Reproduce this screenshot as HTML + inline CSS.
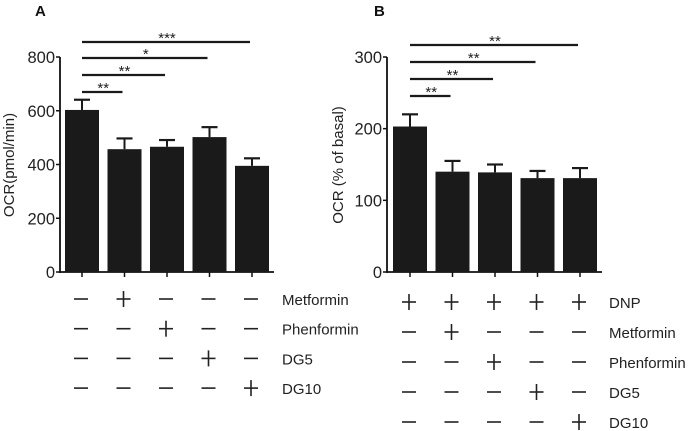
<!DOCTYPE html>
<html><head><meta charset="utf-8"><style>
html,body{margin:0;padding:0;background:#fff;}
svg{display:block;font-family:"Liberation Sans",Arial,sans-serif;}
</style></head><body>
<svg id="fig" width="698" height="431" viewBox="0 0 698 431"></svg>
<script>
const catsA = ["Control","Metformin","Phenformin","DG5","DG10"];
const valsA = [603, 457, 466, 502, 395];
const errA = [38, 40, 25, 37, 28];
const ticksA = [0, 200, 400, 600, 800];
const sigA = [[0,1,"**"],[0,2,"**"],[0,3,"*"],[0,4,"***"]];
const rowsA = ["Metformin","Phenformin","DG5","DG10"];
const signsA = [["-","+","-","-","-"],["-","-","+","-","-"],["-","-","-","+","-"],["-","-","-","-","+"]];

const catsB = ["DNP","DNP+Metformin","DNP+Phenformin","DNP+DG5","DNP+DG10"];
const valsB = [203, 140, 139, 131, 131];
const errB = [17, 15, 11, 10, 14];
const ticksB = [0, 100, 200, 300];
const sigB = [[0,1,"**"],[0,2,"**"],[0,3,"**"],[0,4,"**"]];
const rowsB = ["DNP","Metformin","Phenformin","DG5","DG10"];
const signsB = [["+","+","+","+","+"],["-","+","-","-","-"],["-","-","+","-","-"],["-","-","-","+","-"],["-","-","-","-","+"]];

const NS="http://www.w3.org/2000/svg";
const svg=document.getElementById('fig');
function mk(tag,attrs,parent){const e=document.createElementNS(NS,tag);for(const k in attrs)e.setAttribute(k,attrs[k]);(parent||svg).appendChild(e);return e;}

function panel(o){
  const g=mk('g',{});
  
  
  const y0=272,y1=57;
  const ys=v=>y0-(v/o.max)*(y0-y1);
  const xc=i=>o.x0+o.step*i;
  const bw=34;
  const L=mk('text',{x:o.letterX,y:16,'font-size':15,'font-weight':'bold',fill:'#111'},g);L.textContent=o.id.toUpperCase();
  
  
  const ax=mk('line',{x1:o.axX,y1:y1,x2:o.axX,y2:y0+1,stroke:'#111','stroke-width':1.8},g);
  
  
  const xa=mk('line',{x1:o.axX,y1:y0,x2:xc(4)+22,y2:y0,stroke:'#111','stroke-width':1.8},g);
  
  
  o.ticks.forEach(t=>{
    mk('line',{x1:o.axX-4,y1:ys(t),x2:o.axX,y2:ys(t),stroke:'#111','stroke-width':1.5},g);
    const tx=mk('text',{x:o.axX-5,y:ys(t)+6,'font-size':16.5,'text-anchor':'end',fill:'#222'},g);tx.textContent=t;
    
    
  });
  const tt=mk('text',{x:0,y:0,'font-size':15,'text-anchor':'middle',fill:'#222',transform:`translate(${o.titleX},165) rotate(-90)`},g);tt.textContent=o.title;
  
  
  o.vals.forEach((v,i)=>{
    const c=xc(i);
    const e=o.err[i];
    const el=mk('line',{x1:c,y1:ys(v),x2:c,y2:ys(v+e),stroke:'#1a1a1a','stroke-width':2},g);
    mk('line',{x1:c-8,y1:ys(v+e),x2:c+8,y2:ys(v+e),stroke:'#1a1a1a','stroke-width':2.2},g);
    
    
    const r=mk('rect',{x:c-bw/2,y:ys(v),width:bw,height:y0-ys(v),fill:'#1a1a1a'},g);
    
    
    mk('line',{x1:c,y1:y0,x2:c,y2:y0+5,stroke:'#111','stroke-width':1.5},g);
  });
  o.sig.forEach((s,k)=>{
    const y=o.sigY[k];
    const sl=mk('line',{x1:xc(s[0]),y1:y,x2:xc(s[1])-2,y2:y,stroke:'#1a1a1a','stroke-width':2.2},g);
    
    
    const st=mk('text',{x:(xc(s[0])+xc(s[1]))/2,y:y+1,'font-size':15,'text-anchor':'middle',fill:'#222'},g);st.textContent=s[2];
    
    
  });
  o.rows.forEach((name,r)=>{
    const y=o.rowY0+o.rowStep*r;
    o.signs[r].forEach((sg,i)=>{
      const c=xc(i)-1;
      mk('line',{x1:c-7,y1:y,x2:c+7,y2:y,stroke:'#222','stroke-width':1.6},g);
      if(sg==='+')mk('line',{x1:c,y1:y-8,x2:c,y2:y+8,stroke:'#222','stroke-width':1.6},g);
    });
    const lt=mk('text',{x:o.rowLabX,y:y+6,'font-size':15,fill:'#222'},g);lt.textContent=name;
    
    
  });
}
panel({id:'a',cats:catsA,vals:valsA,err:errA,ticks:ticksA,max:800,sig:sigA,sigY:[92,75,58,42],
  x0:82,step:42.5,axX:60,letterX:35,titleX:14,title:'OCR(pmol/min)',rows:rowsA,signs:signsA,rowY0:299,rowStep:29.7,rowLabX:282});
panel({id:'b',cats:catsB,vals:valsB,err:errB,ticks:ticksB,max:300,sig:sigB,sigY:[96,79,62,45],
  x0:410,step:42.5,axX:387,letterX:374,titleX:343,title:'OCR (% of basal)',rows:rowsB,signs:signsB,rowY0:302,rowStep:30,rowLabX:609});
</script>
</body></html>
